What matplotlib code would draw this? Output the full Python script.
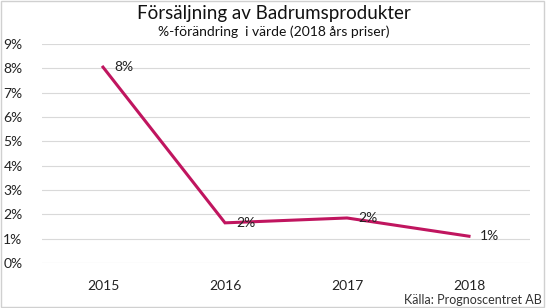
import matplotlib.pyplot as plt
from matplotlib.patches import Rectangle

years = ["2015", "2016", "2017", "2018"]
change = [8.05, 1.65, 1.85, 1.1]
labels = ["8%", "2%", "2%", "1%"]
yticks = list(range(0, 10))

plt.rcParams['font.family'] = ['Lato', 'DejaVu Sans']

fig = plt.figure(figsize=(5.48, 3.08), dpi=100)
ax = fig.add_axes([42 / 548, 1 - 263 / 308, 488 / 548, 219 / 308])

x = list(range(len(years)))
ax.plot(x, change, color='#C0155F', linewidth=2.2, solid_joinstyle='miter')
for xi, v, lab in zip(x, change, labels):
    ax.text(xi + 0.09, v, lab, fontsize=10, va='center', ha='left', color='#222222')

ax.set_xlim(-0.5, len(years) - 0.5)
ax.set_ylim(0, 9)
ax.set_yticks(yticks)
ax.set_yticklabels([f"{t}%" for t in yticks])
ax.set_xticks(x)
ax.set_xticklabels(years)
ax.yaxis.grid(True, color='#d9d9d9', linewidth=0.8)
ax.set_axisbelow(True)
for s in ax.spines.values():
    s.set_visible(False)
ax.tick_params(length=0, labelsize=10, colors='#222222')
ax.tick_params(axis='x', pad=12)
ax.tick_params(axis='y', pad=14)

fig.text(0.5, 1 - 13 / 308, "Försäljning av Badrumsprodukter", ha='center', va='center',
         fontsize=13.5, color='#111111')
fig.text(0.5, 1 - 32 / 308, "%-förändring  i värde (2018 års priser)", ha='center', va='center',
         fontsize=10, color='#111111')
fig.text(542 / 548, 1 - 300 / 308, "Källa: Prognoscentret AB", ha='right', va='center',
         fontsize=9, color='#333333')

fig.patches.append(Rectangle((0.002, 0.002), 543 / 548, 0.996, transform=fig.transFigure,
                             fill=False, edgecolor='#d0d0d0', linewidth=1))

fig.savefig("out.png", dpi=100)
